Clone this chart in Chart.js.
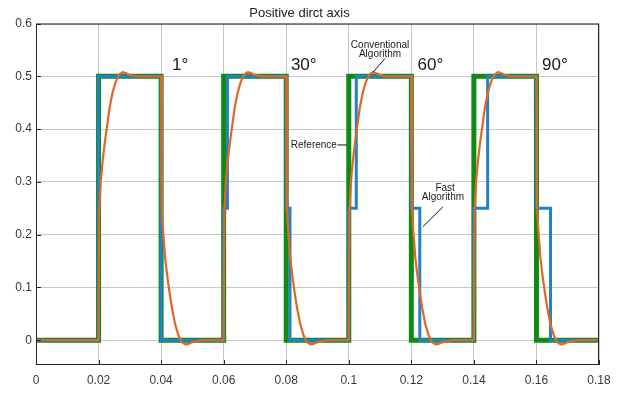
<!DOCTYPE html>
<html>
<head>
<meta charset="utf-8">
<script src="https://cdn.jsdelivr.net/npm/chart.js@4/dist/chart.umd.min.js"></script>
<style>
  body { margin: 0; background: #fff; }
  canvas { display: block; }
</style>
</head>
<body>
<canvas id="chart" width="627" height="403"></canvas>
<script>
const xTicks = [0, 0.02, 0.04, 0.06, 0.08, 0.1, 0.12, 0.14, 0.16, 0.18];
const yTicks = [0, 0.1, 0.2, 0.3, 0.4, 0.5, 0.6];

// reference square wave
const refX = [0, 0.02, 0.02, 0.04, 0.04, 0.06, 0.06, 0.08, 0.08, 0.1, 0.1, 0.12, 0.12, 0.14, 0.14, 0.16, 0.16, 0.18];
const refY = [0, 0, 0.5, 0.5, 0, 0, 0.5, 0.5, 0, 0, 0.5, 0.5, 0, 0, 0.5, 0.5, 0, 0];

// fast algorithm (half step held longer as the angle grows)
const fastX = [0, 0.02, 0.02, 0.04, 0.04, 0.06, 0.06, 0.0612, 0.0612, 0.08, 0.08, 0.0812, 0.0812,
    0.1, 0.1, 0.1024, 0.1024, 0.12, 0.12, 0.1227, 0.1227, 0.14, 0.14, 0.1444, 0.1444, 0.16, 0.16, 0.1645, 0.1645, 0.18];
const fastY = [0, 0, 0.5, 0.5, 0, 0, 0.25, 0.25, 0.5, 0.5, 0.25, 0.25, 0,
    0, 0.25, 0.25, 0.5, 0.5, 0.25, 0.25, 0, 0, 0.25, 0.25, 0.5, 0.5, 0.25, 0.25, 0, 0];

// conventional algorithm
const convX = [0,
    0.02, 0.0202, 0.0207, 0.0213, 0.022, 0.0227, 0.0235, 0.0245, 0.0255, 0.0265, 0.0277, 0.0288, 0.0298, 0.032,
    0.04, 0.0402, 0.0407, 0.0413, 0.042, 0.0427, 0.0435, 0.0445, 0.0455, 0.0465, 0.0477, 0.0488, 0.0498, 0.0528,
    0.06, 0.0602, 0.0607, 0.0613, 0.062, 0.0627, 0.0635, 0.0645, 0.0655, 0.0665, 0.0677, 0.0688, 0.0698, 0.072,
    0.08, 0.0802, 0.0807, 0.0813, 0.082, 0.0827, 0.0835, 0.0845, 0.0855, 0.0865, 0.0877, 0.0888, 0.0898, 0.0928,
    0.1, 0.1002, 0.1007, 0.1013, 0.102, 0.1027, 0.1035, 0.1045, 0.1055, 0.1065, 0.1077, 0.1088, 0.1098, 0.112,
    0.12, 0.1202, 0.1207, 0.1213, 0.122, 0.1227, 0.1235, 0.1245, 0.1255, 0.1265, 0.1277, 0.1288, 0.1298, 0.1328,
    0.14, 0.1402, 0.1407, 0.1413, 0.142, 0.1427, 0.1435, 0.1445, 0.1455, 0.1465, 0.1477, 0.1488, 0.1498, 0.152,
    0.16, 0.1602, 0.1607, 0.1613, 0.162, 0.1627, 0.1635, 0.1645, 0.1655, 0.1665, 0.1677, 0.1688, 0.1698, 0.1728,
    0.18];
const convY = [0,
    0, 0.24, 0.30, 0.34, 0.375, 0.405, 0.44, 0.47, 0.49, 0.503, 0.508, 0.506, 0.503, 0.5,
    0.5, 0.25, 0.20, 0.155, 0.12, 0.09, 0.06, 0.03, 0.01, -0.003, -0.008, -0.007, -0.004, 0,
    0, 0.24, 0.30, 0.34, 0.375, 0.405, 0.44, 0.47, 0.49, 0.503, 0.508, 0.506, 0.503, 0.5,
    0.5, 0.25, 0.20, 0.155, 0.12, 0.09, 0.06, 0.03, 0.01, -0.003, -0.008, -0.007, -0.004, 0,
    0, 0.24, 0.30, 0.34, 0.375, 0.405, 0.44, 0.47, 0.49, 0.503, 0.508, 0.506, 0.503, 0.5,
    0.5, 0.25, 0.20, 0.155, 0.12, 0.09, 0.06, 0.03, 0.01, -0.003, -0.008, -0.007, -0.004, 0,
    0, 0.24, 0.30, 0.34, 0.375, 0.405, 0.44, 0.47, 0.49, 0.503, 0.508, 0.506, 0.503, 0.5,
    0.5, 0.25, 0.20, 0.155, 0.12, 0.09, 0.06, 0.03, 0.01, -0.003, -0.008, -0.007, -0.004, 0,
    0];

const angleLabels = ['1°', '30°', '60°', '90°'];
const angleAt = [0.0435, 0.0815, 0.122, 0.1618];

toPoints = (xs, ys) => xs.map((x, i) => ({x: x, y: ys[i]}));

// text + leader lines, in data units
const notes = [
    {text: 'Conventional', x: 0.110, y: 0.5585, align: 'center'},
    {text: 'Algorithm', x: 0.110, y: 0.5415, align: 'center'},
    {text: 'Reference', x: 0.0962, y: 0.370, align: 'right'},
    {text: 'Fast', x: 0.1308, y: 0.2887, align: 'center'},
    {text: 'Algorithm', x: 0.1301, y: 0.270, align: 'center'}
];
const leaders = [
    [0.1116, 0.534, 0.1077, 0.5075],
    [0.0964, 0.370, 0.0994, 0.370],
    [0.1301, 0.2528, 0.1237, 0.215]
];

const framePlugin = {
    id: 'frame',
    afterDraw: (chart) => {
        let ctx = chart.ctx;
        let a = chart.chartArea;
        let xs = chart.scales.x;
        let ys = chart.scales.y;
        ctx.save();
        ctx.strokeStyle = '#262626';
        ctx.lineWidth = 1;
        ctx.strokeRect(a.left + 0.5, a.top + 0.5, a.right - a.left - 1, a.bottom - a.top - 1);
        ctx.beginPath();
        xTicks.forEach(v => {
            let px = Math.round(xs.getPixelForValue(v)) + 0.5;
            ctx.moveTo(px, a.bottom);
            ctx.lineTo(px, a.bottom - 5);
        });
        yTicks.forEach(v => {
            let py = Math.round(ys.getPixelForValue(v)) + 0.5;
            ctx.moveTo(a.left, py);
            ctx.lineTo(a.left + 5, py);
        });
        ctx.stroke();

        ctx.fillStyle = '#1a1a1a';
        ctx.font = '17px "Liberation Sans", Arial, sans-serif';
        ctx.textAlign = 'left';
        ctx.textBaseline = 'middle';
        angleLabels.forEach((t, i) => {
            ctx.fillText(t, xs.getPixelForValue(angleAt[i]), ys.getPixelForValue(0.521));
        });

        ctx.font = '10px "Liberation Sans", Arial, sans-serif';
        notes.forEach(n => {
            ctx.textAlign = n.align;
            ctx.fillText(n.text, xs.getPixelForValue(n.x), ys.getPixelForValue(n.y));
        });
        ctx.strokeStyle = '#111';
        ctx.beginPath();
        leaders.forEach(l => {
            ctx.moveTo(xs.getPixelForValue(l[0]), ys.getPixelForValue(l[1]));
            ctx.lineTo(xs.getPixelForValue(l[2]), ys.getPixelForValue(l[3]));
        });
        ctx.stroke();
        ctx.restore();
    }
};

new Chart(document.getElementById('chart').getContext('2d'), {
    type: 'scatter',
    data: {
        datasets: [
            {
                label: 'Conventional Algorithm',
                data: toPoints(convX, convY),
                showLine: true,
                borderColor: '#e0662a',
                borderWidth: 2.2,
                borderJoinStyle: 'round',
                pointRadius: 0,
                tension: 0
            },
            {
                label: 'Fast Algorithm',
                data: toPoints(fastX, fastY),
                showLine: true,
                borderColor: '#2680c4',
                borderWidth: 3,
                pointRadius: 0,
                tension: 0
            },
            {
                label: 'Reference',
                data: toPoints(refX, refY),
                showLine: true,
                borderColor: '#0f8a12',
                borderWidth: 5,
                pointRadius: 0,
                tension: 0
            }
        ]
    },
    options: {
        responsive: false,
        animation: false,
        layout: {
            padding: {left: 0, right: 28, top: 0, bottom: 0}
        },
        scales: {
            x: {
                type: 'linear',
                min: 0,
                max: 0.18,
                afterBuildTicks: (scale) => { scale.ticks = xTicks.map(v => ({value: v})); },
                afterFit: (scale) => { scale.height = 38; },
                grid: {color: '#c8c8c8', drawTicks: false},
                border: {display: false},
                ticks: {
                    color: '#3a3a3a',
                    padding: 8,
                    maxRotation: 0,
                    font: {family: '"Liberation Sans", Arial, sans-serif', size: 12},
                    callback: (v) => String(+v.toFixed(2))
                }
            },
            y: {
                type: 'linear',
                min: -0.047,
                max: 0.6,
                afterBuildTicks: (scale) => { scale.ticks = yTicks.map(v => ({value: v})); },
                afterFit: (scale) => { scale.width = 36; },
                grid: {color: '#c8c8c8', drawTicks: false},
                border: {display: false},
                ticks: {
                    color: '#3a3a3a',
                    padding: 4,
                    font: {family: '"Liberation Sans", Arial, sans-serif', size: 12},
                    callback: (v) => String(+v.toFixed(1))
                }
            }
        },
        plugins: {
            legend: {display: false},
            tooltip: {enabled: false},
            title: {
                display: true,
                text: 'Positive dirct axis',
                color: '#222',
                font: {family: '"Liberation Sans", Arial, sans-serif', size: 13, weight: 'normal'},
                padding: {top: 6, bottom: 2}
            }
        }
    },
    plugins: [framePlugin]
});
</script>
</body>
</html>
